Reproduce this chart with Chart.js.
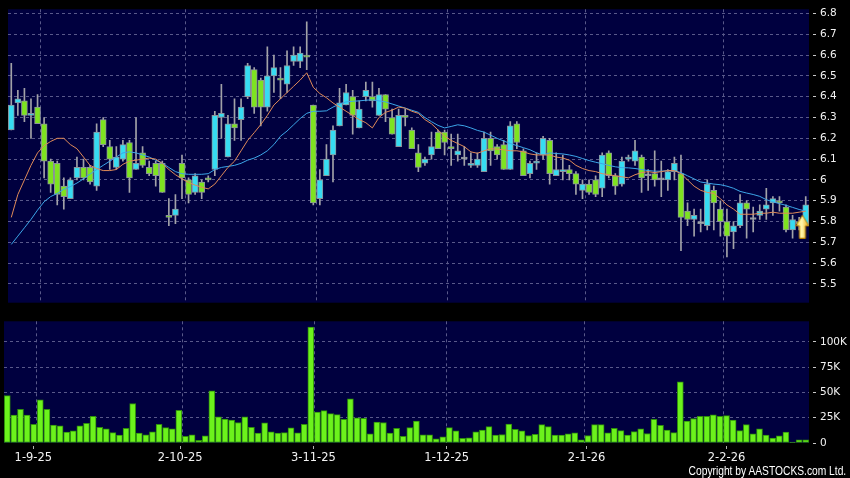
<!DOCTYPE html>
<html><head><meta charset="utf-8">
<script src="https://cdn.jsdelivr.net/npm/chart.js@4.4.1/dist/chart.umd.min.js"></script>
<style>
html,body{margin:0;padding:0;background:#000;width:850px;height:478px;overflow:hidden;}
#pc{position:absolute;left:0;top:0;}
#vc{position:absolute;left:0;top:312px;}
#copy{position:absolute;right:4px;top:464px;font:12.5px "Liberation Sans",Arial,sans-serif;line-height:14px;color:#fff;white-space:nowrap;transform:scaleX(0.82);transform-origin:right top;}
</style></head>
<body>
<canvas id="pc" width="850" height="312"></canvas>
<canvas id="vc" width="850" height="166"></canvas>
<div id="copy">Copyright by AASTOCKS.com Ltd.</div>
<script>
// ---- data ----
const dateLabels = ['1-9-25','2-10-25','3-11-25','1-12-25','2-1-26','2-2-26'];
const priceTicks = [5.5,5.6,5.7,5.8,5.9,6.0,6.1,6.2,6.3,6.4,6.5,6.6,6.7,6.8];
const volumeTicks = [0,25000,50000,75000,100000];
const volumeTickLabels = ['0','25K','50K','75K','100K'];

const open = [6.24,6.37,6.38,6.31,6.35,6.27,6.09,6.08,5.97,5.91, 6.01,6.06,6.06,5.97,6.29,6.16,6.06,6.10,6.18,6.05, 6.13,6.06,6.08,6.08,5.83,5.83,6.08,6.00,5.94,5.99, 6.01,6.05,6.30,6.11,6.27,6.29,6.40,6.53,6.48,6.35, 6.50,6.49,6.46,6.57,6.57,6.60,6.36,5.91,6.02,6.12, 6.26,6.36,6.40,6.25,6.40,6.40,6.31,6.41,6.30,6.16, 6.31,6.24,6.13,6.08,6.12,6.23,6.23,6.16,6.12,6.10, 6.07,6.07,6.04,6.20,6.16,6.17,6.05,6.27,6.14,6.03, 6.08,6.12,6.19,6.02,6.04,6.05,6.03,5.95,5.98,6.00, 5.96,6.13,6.02,5.98,6.10,6.09,6.11,6.02,6.03,6.00, 6.00,6.04,6.03,5.85,5.81,5.79,5.78,5.95,5.86,5.80, 5.75,5.78,5.89,5.81,5.83,5.86,5.89,5.90,5.87,5.76, 5.80,5.78];
const high = [6.56,6.43,6.44,6.39,6.41,6.30,6.10,6.09,6.01,6.01, 6.11,6.10,6.07,6.27,6.30,6.19,6.16,6.19,6.19,6.30, 6.16,6.09,6.09,6.09,5.91,5.93,6.12,6.01,6.03,6.00, 6.02,6.33,6.46,6.31,6.39,6.39,6.56,6.54,6.49,6.64, 6.60,6.54,6.62,6.64,6.64,6.76,6.36,6.05,6.17,6.26, 6.44,6.46,6.43,6.38,6.47,6.47,6.44,6.41,6.34,6.34, 6.34,6.25,6.17,6.11,6.23,6.24,6.24,6.22,6.22,6.16, 6.13,6.13,6.23,6.23,6.17,6.19,6.28,6.28,6.15,6.09, 6.13,6.21,6.20,6.13,6.12,6.07,6.04,6.00,6.00,6.02, 6.13,6.14,6.03,6.11,6.12,6.19,6.12,6.05,6.14,6.09, 6.05,6.11,6.12,5.89,5.86,5.86,6.00,5.97,5.90,5.86, 5.80,5.93,5.90,5.87,5.88,5.96,5.92,5.92,5.88,5.83, 5.82,5.92];
const low = [6.24,6.31,6.28,6.20,6.27,6.01,5.94,5.88,5.86,5.91, 6.00,6.00,5.98,5.95,6.16,6.05,6.05,6.09,5.94,6.05, 6.06,6.02,5.97,5.94,5.78,5.79,5.91,5.89,5.93,5.91, 5.99,6.02,6.20,6.11,6.19,6.19,6.39,6.32,6.26,6.33, 6.42,6.39,6.42,6.55,6.54,6.53,5.88,5.88,6.02,5.99, 6.26,6.36,6.22,6.25,6.38,6.35,6.31,6.28,6.22,6.16, 6.26,6.15,6.04,6.07,6.10,6.15,6.12,6.07,6.09,6.07, 6.06,6.06,6.04,6.07,6.10,6.05,6.05,6.15,6.02,6.01, 6.05,6.10,5.98,6.02,6.00,6.00,5.93,5.91,5.93,5.92, 5.92,6.01,5.93,5.97,6.09,6.07,5.94,5.95,5.97,5.92, 5.95,6.00,5.66,5.78,5.73,5.75,5.76,5.76,5.73,5.63, 5.67,5.77,5.72,5.75,5.81,5.81,5.83,5.85,5.75,5.72, 5.76,5.78];
const close = [6.36,6.39,6.31,6.32,6.27,6.09,5.98,5.93,5.92,6.00, 6.06,6.01,5.99,6.23,6.17,6.10,6.11,6.17,6.01,6.08, 6.07,6.03,6.02,5.94,5.82,5.86,6.01,5.93,6.02,5.94, 6.00,6.31,6.32,6.27,6.25,6.35,6.55,6.35,6.35,6.50, 6.54,6.48,6.55,6.60,6.61,6.59,5.89,6.00,6.10,6.24, 6.37,6.42,6.31,6.34,6.43,6.38,6.41,6.34,6.22,6.31, 6.30,6.15,6.06,6.10,6.16,6.15,6.18,6.15,6.14,6.10, 6.08,6.10,6.20,6.14,6.12,6.05,6.26,6.18,6.02,6.08, 6.09,6.20,6.03,6.05,6.05,6.03,5.98,5.98,5.94,5.93, 6.12,6.02,5.97,6.09,6.11,6.14,6.01,6.02,6.00,6.00, 6.04,6.08,5.82,5.81,5.83,5.79,5.98,5.89,5.80,5.73, 5.78,5.89,5.86,5.81,5.85,5.88,5.91,5.89,5.76,5.81, 5.79,5.88];
const ma10 = [5.82,5.93,6.00,6.07,6.13,6.165,6.185,6.20,6.20,6.17, 6.15,6.11,6.07,6.055,6.045,6.045,6.05,6.075,6.09,6.095, 6.10,6.105,6.10,6.08,6.05,6.025,6.005,5.988,5.975,5.965, 5.957,5.98,6.02,6.06,6.09,6.14,6.19,6.227,6.266,6.31, 6.36,6.39,6.42,6.45,6.48,6.515,6.445,6.415,6.395,6.37, 6.35,6.33,6.31,6.29,6.275,6.25,6.30,6.325,6.335,6.35, 6.345,6.33,6.32,6.29,6.27,6.24,6.21,6.19,6.175,6.16, 6.135,6.128,6.14,6.15,6.148,6.145,6.14,6.14,6.135,6.125, 6.12,6.12,6.12,6.11,6.105,6.095,6.07,6.055,6.045,6.04, 6.03,6.025,6.02,6.015,6.01,6.025,6.035,6.04,6.035,6.04, 6.045,6.045,6.03,6.00,5.97,5.95,5.94,5.935,5.91,5.88, 5.86,5.835,5.835,5.835,5.84,5.84,5.845,5.84,5.84,5.84, 5.845,5.85];
const ma20 = [5.69,5.73,5.77,5.81,5.855,5.895,5.92,5.935,5.955,5.968, 5.985,6.005,6.028,6.05,6.07,6.09,6.11,6.13,6.135,6.13, 6.12,6.11,6.095,6.08,6.06,6.04,6.03,6.027,6.027,6.027, 6.03,6.05,6.06,6.065,6.07,6.08,6.095,6.105,6.12,6.14, 6.17,6.21,6.235,6.265,6.295,6.32,6.33,6.33,6.332,6.35, 6.365,6.375,6.378,6.38,6.383,6.385,6.38,6.375,6.365,6.355, 6.345,6.335,6.325,6.30,6.28,6.262,6.25,6.257,6.265,6.26, 6.25,6.238,6.23,6.215,6.20,6.187,6.175,6.165,6.155,6.145, 6.13,6.12,6.13,6.127,6.125,6.12,6.113,6.103,6.093,6.085, 6.078,6.07,6.063,6.059,6.058,6.055,6.05,6.045,6.042,6.042, 6.045,6.045,6.035,6.02,6.005,5.99,5.985,5.98,5.977,5.97, 5.96,5.945,5.937,5.93,5.921,5.905,5.895,5.886,5.878,5.868, 5.858,5.85];
const volume = [46800,27500,33300,27500,18400,42600,33300,17800,17100,10700, 12000,17100,19400,26500,15500,13900,10300,7800,14500,39100, 9700,8100,11000,18400,15200,13900,32300,6500,8100,2600, 7100,51700,25800,23600,22600,20300,25800,15500,9700,20000, 11000,9700,10300,14900,10000,18400,114700,30700,32000,29100, 28100,23300,43600,24900,24500,9000,20700,20300,9700,14500, 6500,15200,21600,8100,8100,4200,6100,15200,12000,4500, 5200,11000,12900,16200,7800,8400,18700,13600,12000,7400, 8700,18100,16200,7800,7800,9000,10000,3200,7400,18100, 18100,10000,14500,12300,7800,11300,13900,9400,23300,17400, 12900,10300,60400,21600,24200,26500,26500,27800,26500,27100, 22600,12300,18100,9000,13900,7800,4800,7100,10700,1000, 3200,3200];
const arrowMark = [120.5, 5.775];

// ---- layout / style ----
const N = close.length;
const XMIN = -0.5, XMAX = N - 0.5;
const gridPos = [4.5, 26.5, 46.5, 66.5, 87.5, 108.5];
const labelPos = [3.95, 26.2, 46.4, 66.6, 87.8, 109.0];
const GRID = '#59598a';
const TXT = '#f2f2f2';
const UP = '#36dcf2', DN = '#7ee320', FLAT = '#b8b8b8';

const bgPlugin = { id:'bg', beforeDraw(chart){ const a = chart.chartArea, ctx = chart.ctx; ctx.save(); ctx.fillStyle = '#00003f'; ctx.fillRect(a.left, a.top, a.right - a.left, a.bottom - a.top); ctx.restore(); } };

function makeArrow(){
  const c = document.createElement('canvas'); c.width = 14; c.height = 24;
  const g = c.getContext('2d');
  const grad = g.createLinearGradient(0,0,14,0);
  grad.addColorStop(0,'#ffe04a'); grad.addColorStop(0.45,'#fff6b0'); grad.addColorStop(1,'#e9a400');
  g.beginPath(); g.moveTo(7,0.5); g.lineTo(13.5,11); g.lineTo(10,11); g.lineTo(10,23.5); g.lineTo(4,23.5); g.lineTo(4,11); g.lineTo(0.5,11); g.closePath();
  g.fillStyle = grad; g.fill(); g.strokeStyle = '#b37a00'; g.lineWidth = 1; g.stroke();
  return c;
}

const bodies = close.map((c,i)=>({x:i, y:[Math.min(open[i],c), Math.max(open[i],c)]}));
const wicks = close.map((c,i)=>({x:i, y:[low[i], high[i]]}));
const bodyColors = close.map((c,i)=> c > open[i] ? UP : (c < open[i] ? DN : FLAT));

const xGridAxis = (h) => ({
  type:'linear', min:XMIN, max:XMAX, offset:false,
  afterBuildTicks: s => { s.ticks = gridPos.map(v=>({value:v})); },
  afterFit: s => { s.height = h; },
  ticks:{display:false},
  grid:{color:GRID, lineWidth:1, drawTicks:false, offset:false},
  border:{display:false, dash:[3,3]}
});

new Chart(document.getElementById('pc'), {
  type:'bar',
  data:{ datasets:[
    { type:'scatter', data:[{x:arrowMark[0], y:arrowMark[1]}], pointStyle:makeArrow(), pointRadius:7, order:-1, xAxisID:'x', yAxisID:'y' },
    { type:'line', data: ma10.map((v,i)=>({x:i,y:v})), borderColor:'#e08a58', borderWidth:1, pointRadius:0, tension:0, order:0, xAxisID:'x', yAxisID:'y' },
    { type:'line', data: ma20.map((v,i)=>({x:i,y:v})), borderColor:'#3ca6e8', borderWidth:1, pointRadius:0, tension:0, order:0, xAxisID:'x', yAxisID:'y' },
    { type:'bar', data: bodies, backgroundColor: bodyColors, borderColor:'#8b939b', borderWidth:1, borderSkipped:false, barThickness:6, minBarLength:2, grouped:false, order:1, xAxisID:'x', yAxisID:'y' },
    { type:'bar', data: wicks, backgroundColor:'#a2a2a8', borderWidth:0, barThickness:1, grouped:false, order:2, xAxisID:'x', yAxisID:'y' }
  ]},
  options:{
    responsive:false, animation:false, devicePixelRatio:1,
    layout:{padding:{left:4, top:6, right:0, bottom:7}},
    plugins:{legend:{display:false}, tooltip:{enabled:false}},
    scales:{
      x: xGridAxis(0),
      y:{ position:'right', min:5.41, max:6.82,
          afterBuildTicks: s => { s.ticks = priceTicks.map(v=>({value:v})); },
          afterFit: s => { s.width = 41; },
          ticks:{color:TXT, padding:3, font:{family:'DejaVu Sans', size:10.5}, callback: v => String(Math.round(v*10)/10)},
          grid:{color:GRID, tickLength:8, tickColor:'#c8c8c8', tickBorderDash:[0,4,3,20]},
          border:{display:false, dash:[3,3]} }
    }
  },
  plugins:[bgPlugin]
});

new Chart(document.getElementById('vc'), {
  type:'bar',
  data:{ datasets:[
    { data: volume.map((v,i)=>({x:i,y:v})), backgroundColor:'#6cf21c', borderColor:'#2f8f0c', borderWidth:1, borderSkipped:false, barThickness:6, xAxisID:'x', yAxisID:'y' }
  ]},
  options:{
    responsive:false, animation:false, devicePixelRatio:1,
    layout:{padding:{left:4, top:7, right:0, bottom:0}},
    plugins:{legend:{display:false}, tooltip:{enabled:false}},
    scales:{
      x: xGridAxis(0),
      xl:{ type:'linear', axis:'x', position:'bottom', min:XMIN, max:XMAX, offset:false,
           afterBuildTicks: s => { s.ticks = labelPos.map(v=>({value:v})); },
           afterFit: s => { s.height = 35; },
           ticks:{color:TXT, padding:2, maxRotation:0, autoSkip:false, font:{family:'DejaVu Sans', size:11.5}, callback:(v,i)=>dateLabels[i]},
           grid:{drawOnChartArea:false, tickLength:6, tickColor:'#b0b0b0', tickBorderDash:[0,3,3,10], offset:false},
           border:{display:false} },
      y:{ position:'right', min:0, max:120400,
          afterBuildTicks: s => { s.ticks = volumeTicks.map(v=>({value:v})); },
          afterFit: s => { s.width = 41; },
          ticks:{color:TXT, padding:3, font:{family:'DejaVu Sans', size:10.5}, callback:(v,i)=>volumeTickLabels[i]},
          grid:{color:(c)=> c.tick && c.tick.value === 0 ? 'rgba(0,0,0,0)' : GRID, tickLength:8, tickColor:'#c8c8c8', tickBorderDash:[0,4,3,20]},
          border:{display:false, dash:[3,3]} }
    }
  },
  plugins:[bgPlugin]
});
</script>
</body></html>
